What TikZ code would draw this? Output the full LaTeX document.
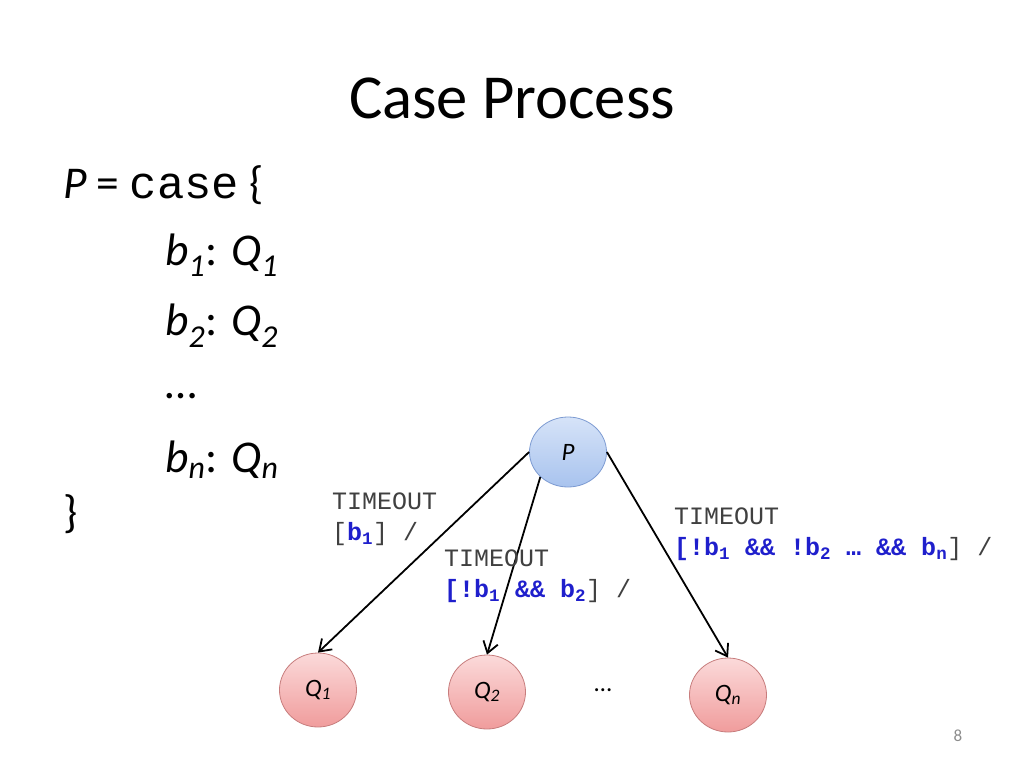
\documentclass[tikz,border=0pt]{standalone}
\usepackage{fontspec}
\setmainfont{Carlito}
\setmonofont{Liberation Mono}
\usepackage{tikz}
\usetikzlibrary{shapes.geometric, arrows.meta, positioning}
\definecolor{pfill}{HTML}{D6E3F8}
\definecolor{pfilldark}{HTML}{A8C3EE}
\definecolor{pborder}{HTML}{7D9BD2}
\definecolor{qfill}{HTML}{FBDADA}
\definecolor{qfilldark}{HTML}{F09C9C}
\definecolor{qborder}{HTML}{C77D7D}
\definecolor{condblue}{HTML}{1F1FCC}
\definecolor{pagegray}{HTML}{8C8C8C}
\newcommand{\cond}[1]{\textcolor{condblue}{\bfseries #1}}
\tikzset{
  procnode/.style={
    ellipse, minimum width=77pt, minimum height=70pt,
    draw=pborder, thick, top color=pfill, bottom color=pfilldark,
    font=\fontsize{25}{30}\selectfont,
  },
  casenode/.style={
    ellipse, minimum width=77pt, minimum height=74pt,
    draw=qborder, thick, top color=qfill, bottom color=qfilldark,
    font=\fontsize{25}{30}\selectfont,
  },
  trans/.style={-{Straight Barb[length=11pt,width=15pt,line width=1.8pt]}, line width=1.8pt},
  lbl/.style={
    anchor=north west, inner sep=0pt, align=left,
    font=\fontsize{25}{31}\selectfont\ttfamily, text=black!75,
  },
  body/.style={anchor=base west, inner sep=0pt, font=\fontsize{45.5}{50}\selectfont},
}

\begin{document}
\begin{tikzpicture}[x=1pt, y=-1pt]
  \useasboundingbox (0,0) rectangle (1024,768);

  % title and the case definition
  \node[anchor=base, inner sep=0pt, font=\fontsize{62.6}{70}\selectfont] (title) at (512,118) {Case Process};
  \node[body] (def)   at (63,198)  {\textit{P} = {\ttfamily case} \{};
  \node[body] (row1)  at (165,265) {\textit{b\textsubscript{1}}: \textit{Q\textsubscript{1}}};
  \node[body] (row2)  at (165,335) {\textit{b\textsubscript{2}}: \textit{Q\textsubscript{2}}};
  \node[body] (rowd)  at (165,398) {…};
  \node[body] (rown)  at (165,472) {\textit{b\textsubscript{n}}: \textit{Q\textsubscript{n}}};
  \node[body] (close) at (63,527)  {\}};

  % the process and its cases
  \node[procnode] (P)  at (568,452) {\textit{P}};
  \node[casenode] (Q1) at (318,690) {\textit{Q\textsubscript{1}}};
  \node[casenode] (Q2) at (487,692) {\textit{Q\textsubscript{2}}};
  \node[casenode] (Qn) at (728,695) {\textit{Q\textsubscript{n}}};
  \node[inner sep=0pt, font=\fontsize{25}{30}\selectfont] (dots) at (603,690) {…};

  \draw[trans] (P.west) -- (Q1.north);
  \draw[trans] (P.222) -- (Q2.north);
  \draw[trans] (P.east) -- (Qn.north);

  % transition labels
  \node[lbl] (t1) at (332,493) {TIMEOUT\\\relax[\cond{b\textsubscript{1}}] /};
  \node[lbl] (t2) at (444,550) {TIMEOUT\\\relax\cond{[!b\textsubscript{1} \&\& b\textsubscript{2}}] /};
  \node[lbl] (t3) at (674,508) {TIMEOUT\\\relax\cond{[!b\textsubscript{1} \&\& !b\textsubscript{2} … \&\& b\textsubscript{n}}] /};

  \node[anchor=base, inner sep=0pt, font=\fontsize{17}{20}\selectfont, text=pagegray] (page) at (958,741) {8};
\end{tikzpicture}
\end{document}
